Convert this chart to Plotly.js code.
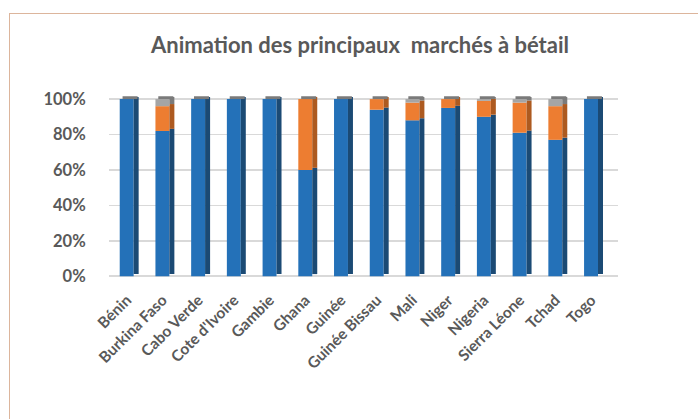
<!DOCTYPE html>
<html>
<head>
<meta charset="utf-8">
<script src="https://cdn.plot.ly/plotly-3.0.1.min.js"></script>
<style>
  html, body { margin: 0; padding: 0; background: #ffffff; }
  #wrap { position: relative; width: 698px; height: 419px; overflow: hidden; }
  #plot { position: absolute; left: 0; top: 0; width: 698px; height: 419px; }
  #frame { position: absolute; left: 9px; top: 13px; width: 700px; height: 420px;
           border-left: 1px solid #dcb59c; border-top: 1px solid #dcb59c; pointer-events: none; }
</style>
</head>
<body>
<div id="wrap"><div id="plot"></div><div id="frame"></div></div>
<script>
// ---- data (in %) ----
const countries = ['Bénin', 'Burkina Faso', 'Cabo Verde', "Cote d'Ivoire", 'Gambie', 'Ghana', 'Guinée',
                   'Guinée Bissau', 'Mali', 'Niger', 'Nigeria', 'Sierra Léone', 'Tchad', 'Togo'];
const serie1 = [100, 82, 100, 100, 100, 60, 100, 94, 88, 95, 90, 81, 77, 100];
const serie2 = [0, 14, 0, 0, 0, 40, 0, 6, 10, 5, 9, 17, 19, 0];
const serie3 = [0, 4, 0, 0, 0, 0, 0, 0, 2, 0, 1, 2, 4, 0];
const yTicks = [0, 20, 40, 60, 80, 100];
const titleText = 'Animation des principaux\u00a0 marchés à bétail';

// ---- styling ----
const FRONT = ['#2471b8', '#ed7d31', '#a5a5a5'];
const SIDE  = ['#1b4a74', '#ad5a20', '#7b7b7b'];
const TOP   = '#7a7a7a';
const DEPTH = 1.2;   // side-face lift, in axis units

const series = [serie1, serie2, serie3];
const names = ['Série 1', 'Série 2', 'Série 3'];
const traces = [];
const cum = countries.map(() => 0);

series.forEach((vals, k) => {
  const base = cum.slice();
  // front face
  traces.push({
    type: 'bar', name: names[k], x: countries, y: vals, base: base,
    width: 0.39, offset: -0.2,
    marker: { color: FRONT[k], line: { width: 0 } },
    hoverinfo: 'skip', showlegend: false
  });
  // side face (3D look)
  traces.push({
    type: 'bar', name: names[k] + ' side', x: countries, y: vals,
    base: base.map(b => b + DEPTH),
    width: 0.14, offset: 0.19,
    marker: { color: SIDE[k], line: { width: 0 } },
    hoverinfo: 'skip', showlegend: false
  });
  vals.forEach((v, i) => { cum[i] += v; });
});
// top face
traces.push({
  type: 'bar', name: 'top', x: countries, y: countries.map(() => 1.6),
  base: cum.slice(),
  width: 0.42, offset: -0.12,
  marker: { color: TOP, line: { width: 0 } },
  hoverinfo: 'skip', showlegend: false
});

const layout = {
  width: 698, height: 419,
  margin: { l: 109, r: 80, t: 92, b: 141 },
  paper_bgcolor: '#ffffff', plot_bgcolor: '#ffffff',
  barmode: 'overlay',
  showlegend: false,
  font: { family: 'Lato, "Open Sans", sans-serif', color: '#595959' },
  title: {
    text: '<b>' + titleText + '</b>',
    x: 360 / 698, xref: 'container', xanchor: 'center',
    y: 1 - 45 / 419, yref: 'container', yanchor: 'middle',
    font: { family: 'Lato, sans-serif', size: 22, color: '#595959' }
  },
  xaxis: {
    type: 'category',
    range: [-0.5, 13.75],
    tickangle: -45,
    tickfont: { family: 'Lato, sans-serif', size: 15.5, color: '#595959', weight: 'bold' },
    ticks: 'outside', ticklen: 6, tickcolor: 'rgba(0,0,0,0)',
    showgrid: false, zeroline: false, showline: false,
    fixedrange: true
  },
  yaxis: {
    range: [-1, 104],
    tickvals: yTicks,
    ticktext: yTicks.map(v => v + '%'),
    tickfont: { family: 'Lato, sans-serif', size: 16.5, color: '#595959', weight: 'bold' },
    ticks: 'outside', ticklen: 19, tickcolor: 'rgba(0,0,0,0)',
    showgrid: true, gridcolor: '#d9d9d9', gridwidth: 1.5,
    zeroline: false, showline: false,
    fixedrange: true
  }
};

Plotly.newPlot('plot', traces, layout, { displayModeBar: false, staticPlot: true });
</script>
</body>
</html>
